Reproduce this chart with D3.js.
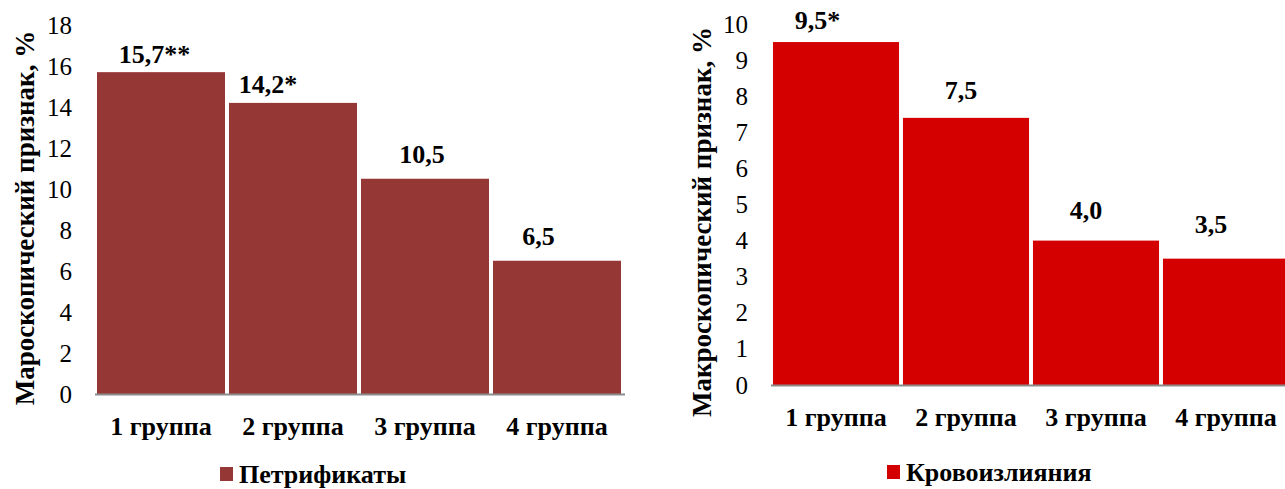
<!DOCTYPE html>
<html>
<head>
<meta charset="utf-8">
<script src="https://cdn.jsdelivr.net/npm/d3@7"></script>
<style>
  html, body { margin: 0; padding: 0; background: #fff; overflow: hidden; }
  svg { display: block; }
</style>
</head>
<body>
<svg id="chart" width="1285" height="489"></svg>
<script>
// ---- data ----
const groups = ["1 группа", "2 группа", "3 группа", "4 группа"];
const petrValues = [15.7, 14.2, 10.5, 6.5];
const petrLabels = ["15,7**", "14,2*", "10,5", "6,5"];
const petrTicks = [0, 2, 4, 6, 8, 10, 12, 14, 16, 18];
const petrTitle = "Мароскопический признак, %";
const petrLegend = "Петрификаты";

const krovValues = [9.5, 7.4, 4.0, 3.5];
const krovLabels = ["9,5*", "7,5", "4,0", "3,5"];
const krovTicks = [0, 1, 2, 3, 4, 5, 6, 7, 8, 9, 10];
const krovTitle = "Макроскопический признак, %";
const krovLegend = "Кровоизлияния";

// ---- layout (positions / styles) ----
const FONT = "Liberation Serif";
const svg = d3.select("#chart");

function drawPanel(cfg) {
  const g = svg.append("g").style("font-family", FONT);
  const x = d3.scaleBand().domain(groups).range(cfg.xRange)
    .paddingInner(4 / 132).paddingOuter(2 / 132);
  const y = d3.scaleLinear().domain([0, cfg.max]).range(cfg.yRange);

  // y axis tick labels
  const ay = d3.axisLeft(y).tickValues(cfg.ticks).tickSize(0).tickPadding(23)
    .tickFormat(d3.format("d"));
  const yg = g.append("g").attr("transform", `translate(${cfg.xRange[0]},0)`).call(ay);
  yg.select(".domain").remove();
  yg.attr("font-family", null).attr("font-size", null);
  yg.selectAll("text").style("font-family", FONT).style("font-size", "25px").attr("fill", "#000");

  // bars
  g.selectAll("rect.bar").data(cfg.values).join("rect")
    .attr("class", "bar")
    .attr("x", (d, i) => x(groups[i]))
    .attr("width", x.bandwidth())
    .attr("y", d => y(d))
    .attr("height", d => y(0) - y(d))
    .attr("fill", cfg.color);

  // baseline
  g.append("line")
    .attr("x1", cfg.xRange[0]).attr("x2", cfg.xRange[1] + 2)
    .attr("y1", y(0) + 0.5).attr("y2", y(0) + 0.5)
    .attr("stroke", "#8c8c8c").attr("stroke-width", 2);

  // x category labels
  const ax = d3.axisBottom(x).tickSize(0).tickPadding(0);
  const xg = g.append("g").attr("transform", `translate(0,${y(0)})`).call(ax);
  xg.select(".domain").remove();
  xg.attr("font-family", null).attr("font-size", null);
  xg.selectAll("text").style("font-family", FONT).style("font-size", "26px")
    .style("font-weight", "bold").attr("fill", "#000").attr("dy", null).attr("y", 41);

  // value labels
  g.selectAll("text.val").data(cfg.labels).join("text")
    .attr("class", "val")
    .attr("x", (d, i) => x(groups[i]) + x.bandwidth() / 2 + cfg.nudge[i][0])
    .attr("y", (d, i) => y(cfg.values[i]) + cfg.nudge[i][1])
    .attr("text-anchor", "middle")
    .style("font-family", FONT).style("font-size", "26px").style("font-weight", "bold")
    .text(d => d);

  // y title
  g.append("text")
    .attr("transform", `translate(${cfg.titleX},${cfg.titleY}) rotate(-90)`)
    .attr("text-anchor", "middle")
    .style("font-family", FONT).style("font-size", cfg.titleSize + "px").style("font-weight", "bold")
    .text(cfg.title);

  // legend
  g.append("rect")
    .attr("x", cfg.legX).attr("y", cfg.legY)
    .attr("width", 13).attr("height", 14)
    .attr("fill", cfg.color);
  g.append("text")
    .attr("x", cfg.legX + 19).attr("y", cfg.legY + 16)
    .style("font-family", FONT).style("font-size", "26px").style("font-weight", "bold")
    .text(cfg.legend);
}

drawPanel({
  values: petrValues, labels: petrLabels, ticks: petrTicks, max: 18,
  xRange: [95, 623], yRange: [394, 25], color: "#953735",
  nudge: [[-6.5, -9], [-25, -10], [-3, -16], [-18.5, -16]],
  title: petrTitle, titleX: 34, titleY: 218, titleSize: 27,
  legend: petrLegend, legX: 220, legY: 467
});

drawPanel({
  values: krovValues, labels: krovLabels, ticks: krovTicks, max: 10,
  xRange: [771, 1291], yRange: [385, 24], color: "#d40000",
  nudge: [[-18.5, -13], [-5, -19], [-10, -22], [-15, -26]],
  title: krovTitle, titleX: 711, titleY: 222, titleSize: 27,
  legend: krovLegend, legX: 887, legY: 465
});
</script>
</body>
</html>
